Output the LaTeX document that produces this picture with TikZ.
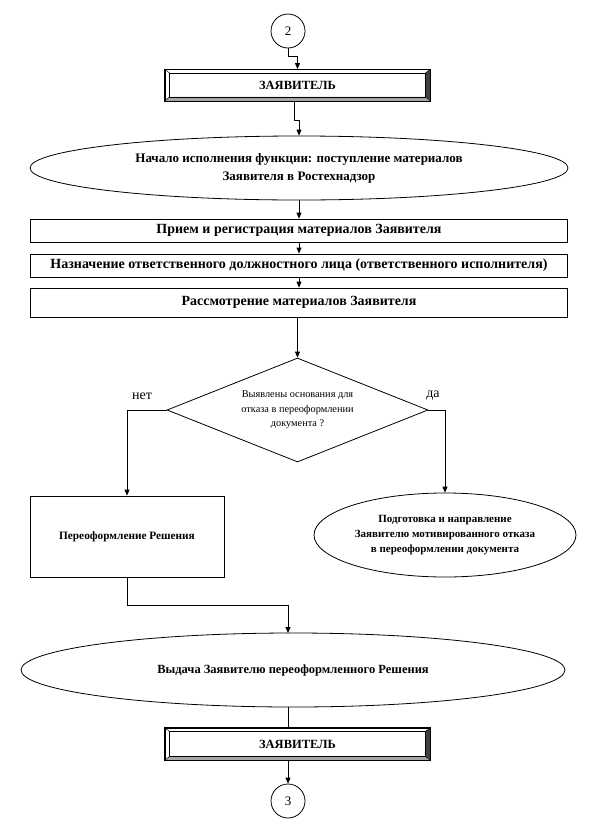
\documentclass[tikz,border=0pt]{standalone}
\usepackage{fontspec}
\setmainfont{Liberation Serif}
\usetikzlibrary{shapes.geometric,arrows.meta,calc}
\tikzset{
  arr/.style={-{Triangle[length=6pt,width=5pt]},line width=0.8pt},
  ln/.style={line width=0.8pt},
  conn/.style={circle,draw,line width=0.8pt,minimum size=34pt,inner sep=0pt,font=\fontsize{13}{15}\selectfont},
  actor/.style={rectangle,draw,line width=0.8pt,minimum width=265pt,minimum height=31pt,inner sep=0pt},
  actortext/.style={font=\bfseries\fontsize{12.5}{14}\selectfont,inner sep=0pt},
  oval/.style={ellipse,draw,line width=0.8pt,inner sep=0pt,align=center,font=\bfseries\fontsize{13}{18}\selectfont},
  wide/.style={rectangle,draw,line width=0.8pt,minimum width=537pt,inner sep=0pt,font=\bfseries\fontsize{14}{16}\selectfont},
  proc/.style={rectangle,draw,line width=0.8pt,inner sep=0pt,font=\bfseries\fontsize{11.3}{13}\selectfont},
  decision/.style={diamond,draw,line width=0.8pt,aspect=2.5,inner sep=0pt,minimum width=261pt,minimum height=104pt,align=center,font=\fontsize{10.3}{14.5}\selectfont},
  lbl/.style={font=\fontsize{14}{16}\selectfont,inner sep=0pt}
}
\newcommand{\bevelbox}[1]{%
  \fill[black!75] (#1.north east) -- (#1.south east) -- ([shift={(-5pt,4pt)}]#1.south east) -- ([shift={(-5pt,-4pt)}]#1.north east) -- cycle;
  \fill[black!35] (#1.south west) -- (#1.south east) -- ([shift={(-5pt,4pt)}]#1.south east) -- ([shift={(5pt,4pt)}]#1.south west) -- cycle;
  \draw[line width=0.6pt] ([shift={(5pt,-4pt)}]#1.north west) rectangle ([shift={(-5pt,4pt)}]#1.south east);
  \draw[line width=0.5pt] (#1.north west) -- ([shift={(5pt,-4pt)}]#1.north west)
     (#1.north east) -- ([shift={(-5pt,-4pt)}]#1.north east)
     (#1.south west) -- ([shift={(5pt,4pt)}]#1.south west)
     (#1.south east) -- ([shift={(-5pt,4pt)}]#1.south east);
  \draw[line width=0.8pt] (#1.north west) rectangle (#1.south east);
}
\begin{document}
\begin{tikzpicture}[x=1pt,y=-1pt]
\useasboundingbox (0,0) rectangle (594,825);
\fill[white] (0,0) rectangle (594,825);

\node[conn] (c2) at (288,31) {2};
\node[actor] (z1) at (297.5,85) {};
\bevelbox{z1}
\node[actortext] (z1t) at (z1.center) {ЗАЯВИТЕЛЬ};

\node[oval,minimum width=538pt,minimum height=64pt] (e1) at (299,168)
  {Начало исполнения функции: поступление материалов\\Заявителя в Ростехнадзор};

\node[wide,minimum height=23pt] (b1) at (299,230.5) {\raisebox{-3pt}{Прием и регистрация материалов Заявителя}};
\node[wide,minimum height=23pt] (b2) at (299,265.5) {Назначение ответственного должностного лица (ответственного исполнителя)};
\node[wide,minimum height=29pt] (b3) at (299,302.5) {Рассмотрение материалов Заявителя};

\node[decision] (d) at (297.5,410) {Выявлены основания для\\отказа в переоформлении\\документа ?};
\node[lbl] (no) at (142,396) {нет};
\node[lbl] (yes) at (433,396) {да};

\node[proc,minimum width=194pt,minimum height=81pt] (p) at (127,536.5) {Переоформление Решения};
\node[oval,minimum width=262pt,minimum height=84pt,font=\bfseries\fontsize{11}{15}\selectfont] (e2) at (445,535)
  {Подготовка и направление\\Заявителю мотивированного отказа\\в переоформлении документа};

\node[oval,minimum width=544pt,minimum height=74pt,font=\bfseries\fontsize{12.5}{15}\selectfont] (e3) at (293,670) {Выдача Заявителю переоформленного Решения};

\node[actor,minimum height=32pt] (z2) at (297.5,744) {};
\bevelbox{z2}
\node[actortext] (z2t) at (z2.center) {ЗАЯВИТЕЛЬ};
\node[conn] (c3) at (288,801) {3};

% connectors
\draw[arr] (c2.south) -- ++(0,8) -| (z1.north);
\draw[arr] ([xshift=-3pt]z1.south) -- ++(0,19) -| (e1.north);
\draw[arr] (e1.south) -- (b1.north);
\draw[arr] (b1.south) -- (b2.north);
\draw[arr] (b2.south) -- (b3.north);
\draw[arr] ([xshift=-1.5pt]b3.south) -- ([xshift=-1.5pt]b3.south |- d.north);
\draw[arr] (d.west) -| (p.north);
\draw[arr] (d.east) -| (e2.north);
\draw[arr] (p.south) |- ++(0,28) -| (288,633);
\draw[ln] (288,707) -- (288,728);
\draw[arr] (288,760) -- (c3.north);
\end{tikzpicture}
\end{document}
